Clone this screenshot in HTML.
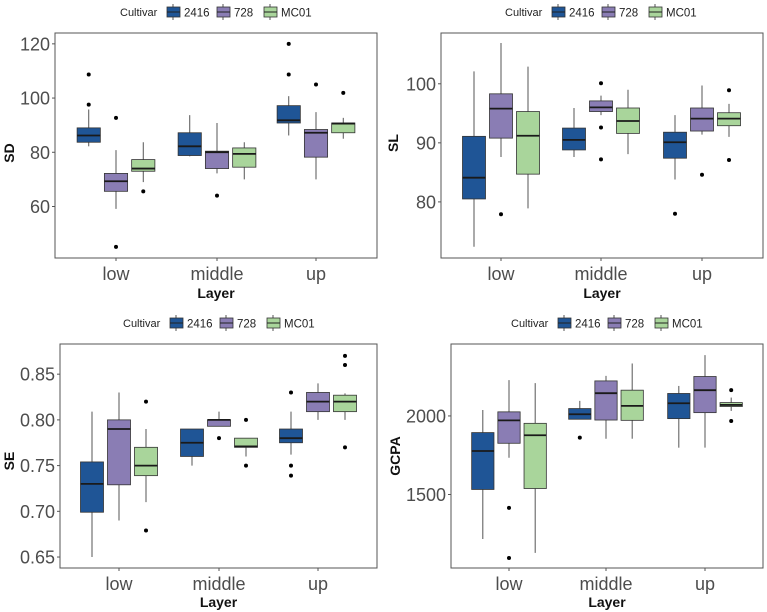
<!DOCTYPE html>
<html><head><meta charset="utf-8"><style>
body{margin:0;background:#fff;width:767px;height:612px;overflow:hidden}
svg{display:block;font-family:"Liberation Sans",Arial,sans-serif}
</style></head><body>
<svg id="chart" width="767" height="612" viewBox="0 0 767 612"></svg>
<script>
const layers = ["low","middle","up"];
const cultivars = ["2416","728","MC01"];
const colors = ["#1f5596","#8a7db4","#a9d59b"];
// stats: [lowWhisker, q1, median, q3, highWhisker] per layer
const sd2416 = [[82.2,83.7,86.2,89,95.8],[78.5,78.8,82.2,87.2,93.7],[86.2,90.8,91.8,97.2,100.7]];
const sd728  = [[59.1,65.6,69.3,72.2,80.8],[72.2,74,80,80.4,90.8],[70,78.2,87.2,88.4,94.8]];
const sdMC01 = [[69,73,74,77.3,83.7],[70,74.5,79.4,81.6,83.7],[85,87.2,90.6,90.8,92.7]];
const sdOut2416 = [[108.7,97.6],[],[120,108.7]];
const sdOut728 = [[92.7,45.1],[64],[105]];
const sdOutMC01 = [[65.6],[],[101.9]];
const sdTicks = [60,80,100,120];

const sl2416 = [[72.4,80.5,84.1,91.1,102.1],[87.6,88.8,90.5,92.5,95.9],[83.8,87.4,90.1,91.8,94.7]];
const sl728  = [[87.6,90.8,95.8,98.3,106.9],[94.7,95.3,96,97.1,98],[91.4,92,94.1,95.9,99.7]];
const slMC01 = [[78.9,84.7,91.2,95.3,102.9],[88.1,91.6,93.7,95.9,99],[91,92.9,94.1,95.1,96.6]];
const slOut2416 = [[],[],[78]];
const slOut728 = [[77.9],[100.1,92.6,87.2],[84.6]];
const slOutMC01 = [[],[],[98.9,87.1]];
const slTicks = [80,90,100];

const se2416 = [[0.65,0.699,0.73,0.754,0.809],[0.75,0.76,0.775,0.79,0.79],[0.762,0.775,0.78,0.79,0.809]];
const se728  = [[0.69,0.729,0.79,0.80,0.83],[0.793,0.793,0.80,0.80,0.809],[0.80,0.809,0.82,0.83,0.84]];
const seMC01 = [[0.71,0.739,0.75,0.77,0.79],[0.76,0.77,0.771,0.78,0.78],[0.80,0.809,0.82,0.827,0.829]];
const seOut2416 = [[],[],[0.83,0.75,0.739]];
const seOut728 = [[],[0.78],[]];
const seOutMC01 = [[0.82,0.679],[0.80,0.75],[0.87,0.86,0.77]];
const seTicks = [0.65,0.70,0.75,0.80,0.85];

const gc2416 = [[1217,1532,1777,1894,2038],[1979,1979,2011,2047,2096],[1798,1983,2081,2143,2191]];
const gc728  = [[1734,1826,1972,2026,2228],[1855,1974,2145,2223,2255],[1798,2021,2164,2251,2387]];
const gcMC01 = [[1128,1538,1877,1953,2209],[1855,1972,2064,2164,2334],[2032,2060,2070,2085,2117]];
const gcOut2416 = [[],[1862],[]];
const gcOut728 = [[1415,1096],[],[]];
const gcOutMC01 = [[],[],[2164,1968]];
const gcTicks = [1500,2000];

const NS="http://www.w3.org/2000/svg";
const svg=document.getElementById('chart');
function mk(tag,attrs,parent,text){const e=document.createElementNS(NS,tag);for(const k in attrs)e.setAttribute(k,attrs[k]);if(text!==undefined)e.textContent=text;(parent||svg).appendChild(e);return e;}

const panels=[
 {key:"sd",title:"SD",x0:55,x1:377,y0:33,y1:258,vTop:124,vBot:41,cats:[116,217,316],legY:12,legX:120,tx:14,tyc:153,lblY:280,layY:298,ticks:sdTicks,fmt:v=>v,stats:[sd2416,sd728,sdMC01],outs:[sdOut2416,sdOut728,sdOutMC01]},
 {key:"sl",title:"SL",x0:441,x1:763,y0:33,y1:258,vTop:108.6,vBot:70.5,cats:[501,601,702],legY:12,legX:505,tx:398,tyc:143,lblY:280,layY:298,ticks:slTicks,fmt:v=>v,stats:[sl2416,sl728,slMC01],outs:[slOut2416,slOut728,slOutMC01]},
 {key:"se",title:"SE",x0:60,x1:377,y0:344,y1:568,vTop:0.883,vBot:0.638,cats:[119,219,318],legY:323,legX:123,tx:14,tyc:461,lblY:590,layY:607,ticks:seTicks,fmt:v=>v.toFixed(2),stats:[se2416,se728,seMC01],outs:[seOut2416,seOut728,seOutMC01]},
 {key:"gcpa",title:"GCPA",x0:451,x1:763,y0:344,y1:568,vTop:2458,vBot:1032,cats:[509,606,705],legY:323,legX:511,tx:400,tyc:456,lblY:590,layY:607,ticks:gcTicks,fmt:v=>v,stats:[gc2416,gc728,gcMC01],outs:[gcOut2416,gcOut728,gcOutMC01]}
];

panels.forEach(p=>{
 const g=mk('g',{});
 
 
 const y=v=>p.y0+(p.vTop-v)/(p.vTop-p.vBot)*(p.y1-p.y0);
 const sp=p.cats[1]-p.cats[0];
 const bw=0.23*sp, dodge=0.27*sp;
 const lg=mk('g',{},g);
 
 
 mk('text',{x:p.legX,y:p.legY+4,'font-size':11,fill:'#222'},lg,'Cultivar');
 const keyOff=[47,97,144];
 cultivars.forEach((c,i)=>{
  const lx=p.legX+keyOff[i];
  const en=mk('g',{},lg);
  
  
  mk('line',{x1:lx+6,x2:lx+6,y1:p.legY-8,y2:p.legY+8,stroke:'#555','stroke-width':1},en);
  mk('rect',{x:lx,y:p.legY-5,width:13,height:10,fill:colors[i],stroke:'#333','stroke-width':0.8},en);
  mk('line',{x1:lx,x2:lx+13,y1:p.legY,y2:p.legY,stroke:'#222','stroke-width':1},en);
  mk('text',{x:lx+17,y:p.legY+4.5,'font-size':11.5,fill:'#222'},en,c);
 });
 const fr=mk('rect',{x:p.x0,y:p.y0,width:p.x1-p.x0,height:p.y1-p.y0,fill:'#fff',stroke:'#555','stroke-width':1},g);
 
 
 p.ticks.forEach(t=>{
  const yy=y(t);
  mk('line',{x1:p.x0-3,x2:p.x0,y1:yy,y2:yy,stroke:'#555'},g);
  const tl=mk('text',{x:p.x0-5,y:yy+6.5,'font-size':18,fill:'#4d4d4d','text-anchor':'end'},g,p.fmt(t));
  
  
 });
 layers.forEach((l,i)=>{
  const cx=p.cats[i];
  mk('line',{x1:cx,x2:cx,y1:p.y1,y2:p.y1+3,stroke:'#555'},g);
  const tl=mk('text',{x:cx,y:p.lblY,'font-size':18,fill:'#4d4d4d','text-anchor':'middle'},g,l);
  
  
 });
 const xt=mk('text',{x:(p.x0+p.x1)/2,y:p.layY,'font-size':14,'font-weight':'bold',fill:'#111','text-anchor':'middle'},g,'Layer');
 
 
 const yt=mk('text',{x:p.tx,y:p.tyc,'font-size':14,'font-weight':'bold',fill:'#111','text-anchor':'middle',transform:`rotate(-90 ${p.tx} ${p.tyc})`},g,p.title);
 
 
 cultivars.forEach((c,ci)=>{
  layers.forEach((l,li)=>{
   const s=p.stats[ci][li];
   const cx=p.cats[li]+(ci-1)*dodge;
   const bg=mk('g',{},g);
   
   
   mk('line',{x1:cx,x2:cx,y1:y(s[4]),y2:y(s[0]),stroke:'#555','stroke-width':1},bg);
   mk('rect',{x:cx-bw/2,y:y(s[3]),width:bw,height:Math.max(1,y(s[1])-y(s[3])),fill:colors[ci],stroke:'#333','stroke-width':0.8},bg);
   mk('line',{x1:cx-bw/2,x2:cx+bw/2,y1:y(s[2]),y2:y(s[2]),stroke:'#1a1a1a','stroke-width':1.8},bg);
   p.outs[ci][li].forEach(o=>{
    const d=mk('circle',{cx:cx,cy:y(o),r:2,fill:'#000'},bg);
    
    
   });
  });
 });
});
</script>
</body></html>
